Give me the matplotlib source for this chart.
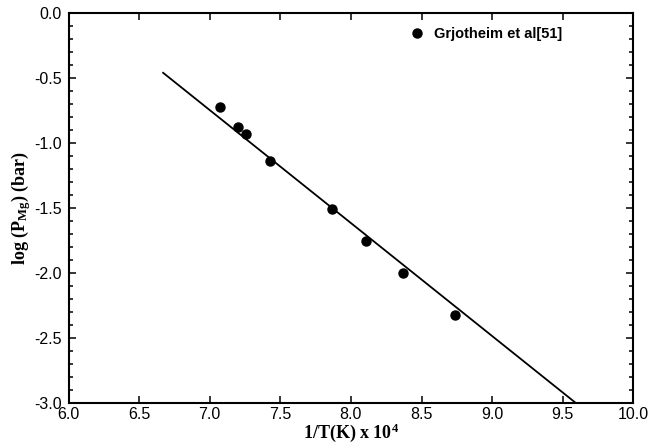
import numpy as np
import matplotlib
matplotlib.use("Agg")
import matplotlib.pyplot as plt
from matplotlib.ticker import MultipleLocator

# data
inv_t = [7.07, 7.20, 7.255, 7.43, 7.865, 8.11, 8.37, 8.74]
log_p = [-0.72, -0.875, -0.93, -1.135, -1.51, -1.755, -2.0, -2.325]
fit_x = [6.67, 9.59]
fit_y = [-0.458, -3.0]
legend_label = "Grjotheim et al[51]"

plt.rcParams['font.family'] = ['Liberation Sans', 'DejaVu Sans']
plt.rcParams['mathtext.fontset'] = 'custom'
plt.rcParams['mathtext.bf'] = 'Liberation Serif:bold'
plt.rcParams['mathtext.rm'] = 'Liberation Serif:bold'
plt.rcParams['mathtext.default'] = 'bf'

fig = plt.figure(figsize=(6.6, 4.45), dpi=100)
ax = fig.add_axes([0.1038, 0.0951, 0.8558, 0.8749])

ax.plot(fit_x, fit_y, color="black", lw=1.3)
ax.plot(inv_t, log_p, "o", color="black", ms=6.5, label=legend_label)

ax.set_xlim(6.0, 10.0)
ax.set_ylim(-3.0, 0.0)
ax.xaxis.set_major_locator(MultipleLocator(0.5))
ax.yaxis.set_major_locator(MultipleLocator(0.5))
ax.yaxis.set_minor_locator(MultipleLocator(0.1))
ax.xaxis.set_major_formatter(plt.FormatStrFormatter('%.1f'))
ax.yaxis.set_major_formatter(plt.FormatStrFormatter('%.1f'))
ax.tick_params(which="both", direction="in", top=True, right=True,
               labelsize=11.5, width=1.1, pad=5)
ax.tick_params(axis="x", pad=3)
ax.tick_params(which="major", length=5)
ax.tick_params(which="minor", length=3)
for s in ax.spines.values():
    s.set_linewidth(1.5)

ax.set_xlabel(r"1/T(K) x 10$^{4}$", family="Liberation Serif",
              fontweight="bold", fontsize=13, labelpad=0)
ax.set_ylabel(r"log (P$_{Mg}$) (bar)", family="Liberation Serif",
              fontweight="bold", fontsize=13, labelpad=1)

ax.legend(loc="upper right", frameon=False, handletextpad=0.2,
          prop={"weight": "bold", "size": 10.5}, numpoints=1,
          bbox_to_anchor=(0.885, 0.98), borderaxespad=0)

fig.savefig("out.png", dpi=100)
